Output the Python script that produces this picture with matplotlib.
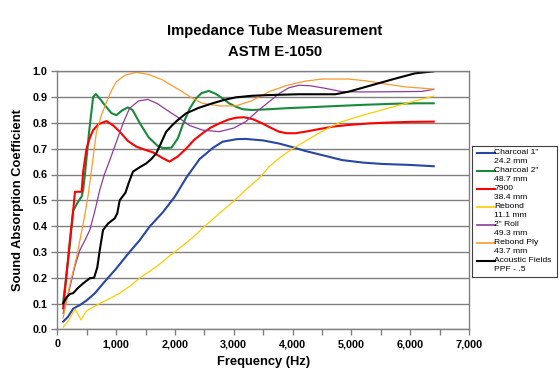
import numpy as np
import matplotlib
matplotlib.use("Agg")
from matplotlib import pyplot as plt
from matplotlib.ticker import MultipleLocator, FuncFormatter

plt.rcParams['font.family'] = ['Liberation Sans', 'DejaVu Sans']

# values (frequency in Hz, absorption coefficient)
charcoal1_f = [100, 180, 270, 390, 500, 640, 780, 1000, 1230, 1400, 1570, 1800, 2000, 2200, 2420,
               2650, 2810, 3050, 3200, 3500, 3770, 4000, 4220, 4560, 4840, 5200, 5520, 6000, 6400]
charcoal1_a = [0.030, 0.048, 0.080, 0.095, 0.112, 0.140, 0.178, 0.235, 0.300, 0.345, 0.398, 0.455, 0.515,
               0.590, 0.660, 0.704, 0.727, 0.737, 0.738, 0.732, 0.720, 0.706, 0.691, 0.672, 0.656, 0.646,
               0.641, 0.637, 0.632]

charcoal2_f = [100, 150, 200, 270, 355, 413, 440, 469, 541, 609, 655, 720, 820, 920, 1005, 1100, 1200,
               1280, 1400, 1550, 1700, 1800, 1940, 2050, 2131, 2250, 2359, 2450, 2575, 2700, 2809, 2920,
               3035, 3150, 3317, 3600, 3900, 4220, 4700, 5200, 5700, 6100, 6400]
charcoal2_a = [0.107, 0.200, 0.300, 0.460, 0.495, 0.514, 0.540, 0.598, 0.766, 0.900, 0.912, 0.895, 0.865,
               0.838, 0.830, 0.848, 0.860, 0.850, 0.800, 0.745, 0.712, 0.702, 0.704, 0.740, 0.792, 0.855,
               0.895, 0.915, 0.924, 0.912, 0.895, 0.876, 0.863, 0.853, 0.850, 0.853, 0.857, 0.860, 0.865,
               0.870, 0.874, 0.876, 0.876]

m7900_f = [100, 160, 215, 270, 300, 413, 440, 497, 550, 609, 700, 836, 950, 1061, 1200, 1343, 1500,
           1624, 1795, 1907, 2050, 2190, 2330, 2470, 2610, 2753, 2900, 3035, 3176, 3330, 3486, 3630,
           3768, 3900, 4050, 4220, 4450, 4700, 4953, 5300, 5700, 6000, 6400]
m7900_a = [0.081, 0.220, 0.346, 0.460, 0.533, 0.533, 0.611, 0.700, 0.740, 0.772, 0.795, 0.807, 0.790,
           0.766, 0.730, 0.708, 0.695, 0.686, 0.663, 0.650, 0.670, 0.700, 0.735, 0.760, 0.782, 0.798,
           0.812, 0.820, 0.822, 0.814, 0.798, 0.781, 0.766, 0.760, 0.760, 0.766, 0.776, 0.786, 0.792,
           0.798, 0.802, 0.804, 0.805]

rebond_f = [100, 160, 215, 300, 350, 401, 450, 497, 600, 722, 900, 1061, 1250, 1399, 1570, 1738, 1907,
            2076, 2300, 2499, 2750, 3007, 3200, 3430, 3600, 3768, 4000, 4276, 4445, 4650, 4840, 5200,
            5516, 5750, 5968, 6200, 6400]
rebond_a = [0.008, 0.025, 0.043, 0.078, 0.060, 0.036, 0.055, 0.071, 0.085, 0.100, 0.120, 0.140, 0.170,
            0.198, 0.225, 0.252, 0.284, 0.314, 0.355, 0.398, 0.448, 0.498, 0.540, 0.585, 0.630, 0.663,
            0.700, 0.737, 0.760, 0.785, 0.805, 0.830, 0.850, 0.865, 0.878, 0.892, 0.904]

roll2_f = [100, 200, 300, 384, 470, 553, 640, 722, 800, 900, 1005, 1120, 1230, 1380, 1540, 1700, 1907,
           2076, 2250, 2470, 2753, 3000, 3205, 3400, 3600, 3780, 3937, 4110, 4300, 4558, 4840, 5200,
           5800, 6200, 6400]
roll2_a = [0.062, 0.150, 0.245, 0.307, 0.345, 0.385, 0.460, 0.540, 0.600, 0.660, 0.727, 0.800, 0.857,
           0.885, 0.891, 0.875, 0.843, 0.818, 0.790, 0.772, 0.766, 0.780, 0.805, 0.845, 0.882, 0.915,
           0.936, 0.946, 0.944, 0.934, 0.921, 0.920, 0.921, 0.922, 0.930]

rebondply_f = [100, 200, 328, 450, 525, 600, 666, 750, 836, 920, 1005, 1150, 1343, 1550, 1795, 1907,
               2076, 2300, 2470, 2750, 3035, 3300, 3600, 3900, 4220, 4500, 4953, 5250, 5516, 5900, 6400]
rebondply_a = [0.044, 0.160, 0.281, 0.420, 0.520, 0.650, 0.766, 0.830, 0.880, 0.925, 0.960, 0.985, 0.996,
               0.988, 0.966, 0.950, 0.928, 0.895, 0.876, 0.866, 0.866, 0.885, 0.921, 0.945, 0.962, 0.970,
               0.970, 0.963, 0.953, 0.940, 0.931]

acoustic_f = [100, 160, 215, 270, 350, 440, 553, 626, 680, 722, 778, 863, 976, 1020, 1061, 1160, 1210,
              1286, 1400, 1513, 1600, 1682, 1760, 1851, 1950, 2047, 2190, 2400, 2640, 2850, 3035, 3300,
              3600, 4100, 4728, 4953, 5250, 5516, 5800, 6081, 6400]
acoustic_a = [0.101, 0.125, 0.137, 0.140, 0.160, 0.178, 0.198, 0.200, 0.240, 0.307, 0.385, 0.410, 0.430,
              0.450, 0.500, 0.530, 0.565, 0.611, 0.628, 0.643, 0.660, 0.682, 0.720, 0.766, 0.790, 0.811,
              0.837, 0.858, 0.876, 0.890, 0.899, 0.905, 0.908, 0.911, 0.911, 0.921, 0.940, 0.957, 0.975,
              0.992, 1.000]

labels = ['Charcoal 1"\n24.2 mm', 'Charcoal 2"\n48.7 mm', '7900\n38.4 mm', 'Rebond\n11.1 mm',
          '2" Roll\n49.3 mm', 'Rebond Ply\n43.7 mm', 'Acoustic Fields\nPPF - .5']
colors = ['#2846a6', '#198a3c', '#ff0000', '#ffcc00', '#8e3b9e', '#ff9a2a', '#000000']
widths = [1.5, 1.5, 1.5, 0.9, 0.9, 0.9, 1.5]

series = [(charcoal1_f, charcoal1_a), (charcoal2_f, charcoal2_a), (m7900_f, m7900_a),
          (rebond_f, rebond_a), (roll2_f, roll2_a), (rebondply_f, rebondply_a),
          (acoustic_f, acoustic_a)]

grey = '#808080'

fig = plt.figure(figsize=(5.59, 3.76), dpi=100)
ax = fig.add_axes([57.3 / 559, 1 - 329.3 / 376, (469 - 57.3) / 559, (329.3 - 71.3) / 376])

ax.yaxis.grid(True, color=grey, linewidth=1.0)
ax.set_axisbelow(True)

for (f, a), c, w in zip(series, colors, widths):
    ax.plot(f, a, color=c, linewidth=w, solid_joinstyle='round')

ax.set_xlim(0, 7000)
ax.set_ylim(0, 1.0)
ax.xaxis.set_major_locator(MultipleLocator(1000))
ax.xaxis.set_minor_locator(MultipleLocator(500))
ax.yaxis.set_major_locator(MultipleLocator(0.1))
ax.xaxis.set_major_formatter(FuncFormatter(lambda v, p: f"{int(v):,}"))
ax.yaxis.set_major_formatter(FuncFormatter(lambda v, p: f"{v:.1f}"))

ax.tick_params(which='both', direction='out', length=4, width=1, color=grey)
ax.tick_params(axis='both', labelsize=7.8, pad=3)
for lab in ax.get_xticklabels() + ax.get_yticklabels():
    lab.set_fontweight('bold')
for s in ax.spines.values():
    s.set_color(grey)
    s.set_linewidth(1.0)

ax.set_xlabel('Frequency (Hz)', fontsize=9.3, fontweight='bold', labelpad=5)
ax.set_ylabel('Sound Absorption Coefficient', fontsize=9.3, fontweight='bold', labelpad=6)

fig.text(0.492, 1 - 31.5 / 376, 'Impedance Tube Measurement', ha='center', va='center',
         fontsize=10.7, fontweight='bold')
fig.text(0.492, 1 - 52 / 376, 'ASTM E-1050', ha='center', va='center',
         fontsize=10.7, fontweight='bold')

# legend box, drawn by hand so the line sits next to the first text line
box_l, box_t, box_w, box_h = 472, 146, 85, 131
lax = fig.add_axes([box_l / 559, 1 - (box_t + box_h) / 376, box_w / 559, box_h / 376])
lax.set_xlim(0, box_w)
lax.set_ylim(box_h, 0)
lax.set_xticks([])
lax.set_yticks([])
for s in lax.spines.values():
    s.set_color('#404040')
    s.set_linewidth(0.8)
for i, (lab, c, w) in enumerate(zip(labels, colors, widths)):
    y0 = 6.5 + i * 18.0
    lax.plot([4.5, 22.5], [y0, y0], color=c, linewidth=max(w, 1.2))
    first, second = lab.split('\n')
    lax.text(22.5, y0, first, fontsize=6.1, va='center', ha='left')
    lax.text(22.5, y0 + 9.3, second, fontsize=6.1, va='center', ha='left')

fig.savefig('out.png', dpi=100)
